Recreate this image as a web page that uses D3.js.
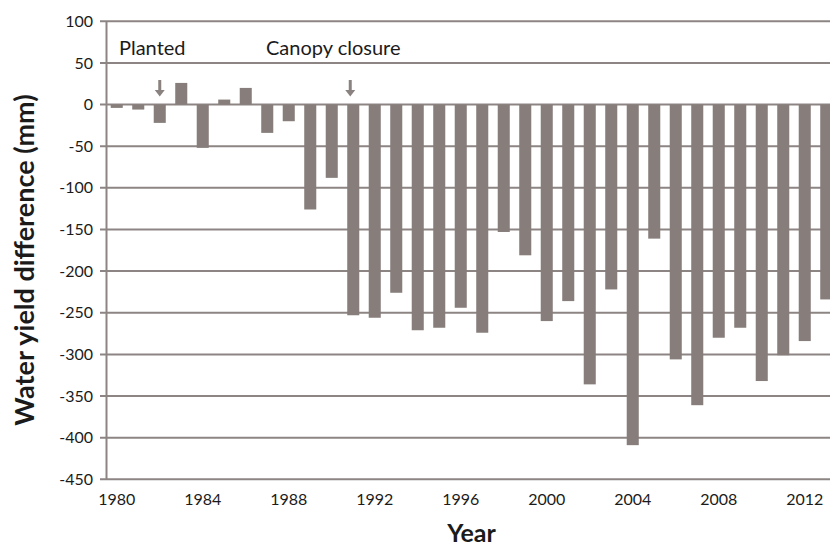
<!DOCTYPE html>
<html>
<head>
<meta charset="utf-8">
<script src="https://cdn.jsdelivr.net/npm/d3@7/dist/d3.min.js"></script>
<style>
  html, body { margin: 0; padding: 0; background: #ffffff; }
  svg { display: block; }
  text { font-family: Lato, "Open Sans", sans-serif; fill: #1b1b1b; }
</style>
</head>
<body>
<svg id="chart" width="830" height="548"></svg>
<script>
// ---- data ----
const years = [1980,1981,1982,1983,1984,1985,1986,1987,1988,1989,1990,1991,1992,1993,1994,1995,1996,
               1997,1998,1999,2000,2001,2002,2003,2004,2005,2006,2007,2008,2009,2010,2011,2012,2013];
const values = [-4,-6,-22,26,-52,6,20,-34,-20,-126,-88,-253,-256,-226,-271,-268,-244,
                -274,-153,-181,-260,-236,-336,-222,-409,-161,-306,-361,-280,-268,-332,-301,-284,-234];
const yTicks = [100,50,0,-50,-100,-150,-200,-250,-300,-350,-400,-450];
const xTickYears = [1980,1984,1988,1992,1996,2000,2004,2008,2012];
const annotationLabels = ["Planted", "Canopy closure"];
const arrowYears = [1982, 1991];
const xTitle = "Year";
const yTitle = "Water yield difference (mm)";

// ---- layout ----
const svg = d3.select("#chart");
const mLeft = 106, mRight = 837, mTop = 21.3, mBottom = 479.3;
const barColor = "#877e7b", gridColor = "#8d8583";

const x = d3.scaleBand().domain(years).range([mLeft, mRight]).paddingInner(0.44).paddingOuter(0.22);
const y = d3.scaleLinear().domain([-450, 100]).range([mBottom, mTop]);

// gridlines
svg.append("g").selectAll("line").data(yTicks).join("line")
  .attr("x1", mLeft - 6).attr("x2", mRight)
  .attr("y1", d => y(d)).attr("y2", d => y(d))
  .attr("stroke", gridColor).attr("stroke-width", 2);

// bars
svg.append("g").selectAll("rect").data(values).join("rect")
  .attr("x", (d, i) => x(years[i]))
  .attr("width", x.bandwidth())
  .attr("y", d => y(Math.max(0, d)))
  .attr("height", d => Math.abs(y(d) - y(0)))
  .attr("fill", barColor);

// y axis
const yAxis = svg.append("g").attr("transform", `translate(${mLeft},0)`)
  .call(d3.axisLeft(y).tickValues(yTicks).tickSize(0).tickPadding(13).tickFormat(d => d));
yAxis.select(".domain").attr("stroke", gridColor).attr("stroke-width", 2);
yAxis.selectAll("text").style("font-size", "16px").style("font-family", "Lato").attr("fill", "#1b1b1b");

// x axis labels
const xAxis = svg.append("g").attr("transform", `translate(0,${mBottom})`)
  .call(d3.axisBottom(x).tickValues(xTickYears).tickSize(0).tickPadding(14));
xAxis.select(".domain").remove();
xAxis.selectAll("text").style("font-size", "16px").style("font-family", "Lato").attr("fill", "#1b1b1b");

// annotations
svg.append("text").attr("x", 119).attr("y", 55).style("font-size", "20px").text(annotationLabels[0]);
svg.append("text").attr("x", 266).attr("y", 55).style("font-size", "20px").text(annotationLabels[1]);

// arrows
svg.append("g").selectAll("path").data(arrowYears).join("path")
  .attr("d", d => {
    const cx = x(d) + x.bandwidth() / 2 - (d === 1991 ? 3 : 0);
    const p = d3.path();
    p.moveTo(cx - 1.5, 80); p.lineTo(cx + 1.5, 80); p.lineTo(cx + 1.5, 90);
    p.lineTo(cx + 5, 90); p.lineTo(cx, 96.5); p.lineTo(cx - 5, 90);
    p.lineTo(cx - 1.5, 90); p.closePath();
    return p.toString();
  })
  .attr("fill", "#8a8280");

// titles
svg.append("text").attr("x", 471.5).attr("y", 542).attr("text-anchor", "middle")
  .style("font-size", "25px").style("font-weight", "bold").text(xTitle);
svg.append("text").attr("transform", "translate(34,260) rotate(-90)").attr("text-anchor", "middle")
  .style("font-size", "27px").style("font-weight", "bold").text(yTitle);
</script>
</body>
</html>
